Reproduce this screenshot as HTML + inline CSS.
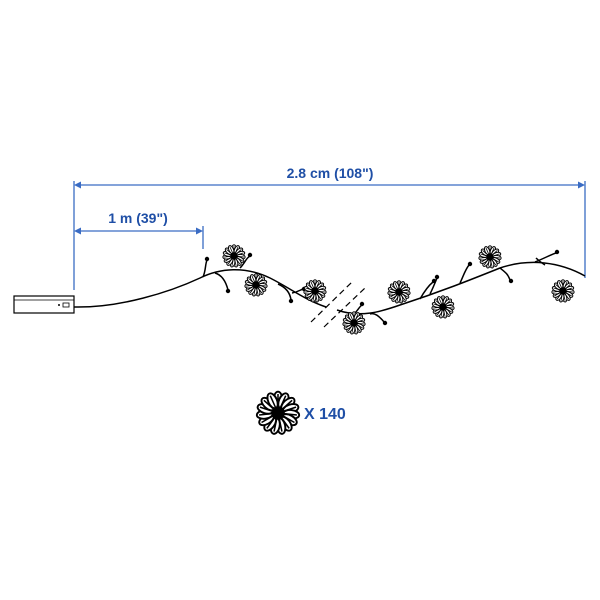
<!DOCTYPE html>
<html><head><meta charset="utf-8"><style>
html,body{margin:0;padding:0;background:#fff;}
svg{display:block;}
text{font-family:"Liberation Sans","DejaVu Sans",sans-serif;font-weight:bold;fill:#1f4fa6;}
</style></head><body>
<svg width="600" height="600" viewBox="0 0 600 600">
<defs>
<g id="petal"><ellipse cx="0" cy="-7" rx="2.3" ry="4.2" fill="#fff" stroke="#000" stroke-width="1"/><line x1="0" y1="0" x2="0" y2="-10" stroke="#000" stroke-width="0.8"/></g>
<g id="flower">
<use href="#petal"/><use href="#petal" transform="rotate(24)"/><use href="#petal" transform="rotate(48)"/>
<use href="#petal" transform="rotate(72)"/><use href="#petal" transform="rotate(96)"/><use href="#petal" transform="rotate(120)"/>
<use href="#petal" transform="rotate(144)"/><use href="#petal" transform="rotate(168)"/><use href="#petal" transform="rotate(192)"/>
<use href="#petal" transform="rotate(216)"/><use href="#petal" transform="rotate(240)"/><use href="#petal" transform="rotate(264)"/>
<use href="#petal" transform="rotate(288)"/><use href="#petal" transform="rotate(312)"/><use href="#petal" transform="rotate(336)"/>
<circle r="3.5" fill="#000"/>
</g>
</defs>
<g stroke="#3a6cc4" stroke-width="1.3" fill="none">
<line x1="74" y1="181" x2="74" y2="290"/>
<line x1="585" y1="181" x2="585" y2="278"/>
<line x1="78" y1="185" x2="581" y2="185"/>
<line x1="203" y1="226" x2="203" y2="249"/>
<line x1="78" y1="231" x2="199" y2="231"/>
</g>
<g fill="#3a6cc4">
<path d="M74 185 L81 181.5 L81 188.5Z"/><path d="M585 185 L578 181.5 L578 188.5Z"/>
<path d="M74 231 L81 227.5 L81 234.5Z"/><path d="M203 231 L196 227.5 L196 234.5Z"/>
</g>
<text x="330" y="178" font-size="14" text-anchor="middle">2.8 cm (108")</text>
<text x="138" y="223" font-size="14" text-anchor="middle">1 m (39")</text>
<g>
<rect x="14" y="296" width="60" height="17" fill="#fff" stroke="#000" stroke-width="1.2"/>
<line x1="14" y1="300" x2="74" y2="300" stroke="#000" stroke-width="0.8"/>
<rect x="63" y="303" width="6" height="4" fill="none" stroke="#000" stroke-width="0.8"/>
<circle cx="59" cy="305" r="1" fill="#000"/>
</g>
<g fill="none" stroke="#000" stroke-width="1.5">
<path d="M74 307 C120 308 170 292 200 278 C220 268 245 266 270 278 C290 288 305 300 326 307"/>
<path d="M337 310 C360 318 380 312 400 305 C440 292 470 280 500 268 C530 258 560 262 585 276"/>
<path d="M203 277 C206 270 205 265 207 260"/>
<path d="M215 273 C222 275 226 282 228 290"/>
<path d="M240 268 C245 263 246 258 250 256"/>
<path d="M278 284 C285 287 290 292 291 300"/>
<path d="M292 293 C298 292 300 290 303 289"/>
<path d="M355 313 C358 310 360 306 362 305"/>
<path d="M370 314 C375 312 380 317 384 322"/>
<path d="M420 299 C424 292 428 286 433 282"/>
<path d="M430 294 C432 290 435 283 437 278"/>
<path d="M460 283 C463 277 465 270 469 265"/>
<path d="M500 268 C505 272 508 274 510 280"/>
<path d="M545 265 C540 262 538 260 536 258"/>
<path d="M535 262 C545 258 550 255 556 253"/>
</g>
<g fill="#000">
<circle cx="207" cy="259" r="2.2"/><circle cx="228" cy="291" r="2.2"/><circle cx="250" cy="255" r="2.2"/>
<circle cx="291" cy="301" r="2.2"/><circle cx="304" cy="289" r="2.2"/><circle cx="362" cy="304" r="2.2"/>
<circle cx="385" cy="323" r="2.2"/><circle cx="434" cy="281" r="2.2"/><circle cx="437" cy="277" r="2.2"/>
<circle cx="470" cy="264" r="2.2"/><circle cx="511" cy="281" r="2.2"/><circle cx="557" cy="252" r="2.2"/>
</g>
<g stroke="#000" stroke-width="1.2" stroke-dasharray="6,4">
<line x1="311" y1="322" x2="352" y2="282"/>
<line x1="324" y1="327" x2="366" y2="287"/>
</g>
<g>
<use href="#flower" x="234" y="256"/><use href="#flower" x="256" y="285"/>
<use href="#flower" x="315" y="291"/><use href="#flower" x="354" y="323"/>
<use href="#flower" x="399" y="292"/><use href="#flower" x="443" y="307"/>
<use href="#flower" x="490" y="257"/><use href="#flower" x="563" y="291"/>
</g>
<g>
<use href="#flower" transform="translate(278,413) scale(1.9)"/>
</g>
<text x="304" y="419" font-size="16">X 140</text>
</svg>
</body></html>
